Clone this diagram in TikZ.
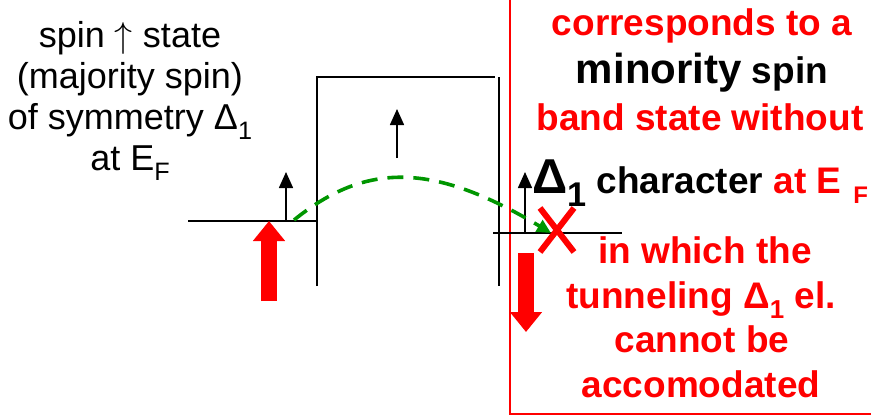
\RequirePackage{fix-cm}
\documentclass[tikz,border=0pt]{standalone}
\usepackage{fontspec}
\setmainfont{Liberation Sans}
\usepackage{tikz}
\usetikzlibrary{arrows.meta}
\definecolor{alertred}{RGB}{255,0,0}
\definecolor{pathgreen}{RGB}{0,150,0}
\newcommand{\idx}[1]{\raisebox{-0.28em}{\scalebox{0.7}{#1}}}
\newcommand{\lowidx}[1]{\raisebox{-10pt}{\fontsize{24}{24}\selectfont #1}}
\tikzset{
  base/.style={inner sep=0pt, align=center, anchor=base},
  plain/.style={base, font=\fontsize{36}{41}\selectfont},
  note/.style={base, font=\bfseries\fontsize{37}{45}\selectfont, text=alertred},
  level/.style={line width=1.6pt, draw=black},
  spinarr/.style={-{Triangle[length=16pt,width=14pt]}, line width=1.6pt, draw=black},
  bigspin/.style={-{Triangle[length=20pt,width=31pt]}, line width=16pt, draw=alertred},
  tunnel/.style={-{Triangle[length=14pt,width=13pt]}, line width=3.6pt, draw=pathgreen, dash pattern=on 16pt off 10pt},
  cross/.style={line width=6pt, draw=alertred},
  frame/.style={draw=alertred, line width=1.5pt},
}

\begin{document}
\begin{tikzpicture}[x=1pt,y=-1pt]
  \useasboundingbox (0,0) rectangle (871,416);
  % frame of the remark
  \draw[frame] (510,-10) -- (510,414) -- (890,414);
  % electrodes and barrier
  \coordinate (left0) at (188,221);
  \coordinate (left1) at (317,221);
  \coordinate (right0) at (493,233);
  \coordinate (right1) at (622,233);
  \draw[level] (left0) -- (left1);
  \draw[level] (317,286) -- (317,77) -- (495,77);
  \draw[level] (499,77) -- (499,286);
  \draw[level] (right0) -- (right1);
  % small spin arrows
  \coordinate (sa0) at (286,221);  \coordinate (sa1) at (286,172);
  \coordinate (sb0) at (397,158);  \coordinate (sb1) at (397,109);
  \coordinate (sc0) at (525,233);  \coordinate (sc1) at (525,172);
  \foreach \a/\b in {sa0/sa1,sb0/sb1,sc0/sc1}{\draw[spinarr] (\a) -- (\b);}
  % majority / minority spin
  \coordinate (up0) at (269,301);   \coordinate (up1) at (269,221);
  \coordinate (dn0) at (526,253);   \coordinate (dn1) at (526,332);
  \draw[bigspin] (up0) -- (up1);
  \draw[bigspin] (dn0) -- (dn1);
  % tunneling path
  \coordinate (gstart) at (294,220);
  \coordinate (miss) at (557,230);
  \draw[tunnel] (gstart) .. controls (366,162) and (433,162) .. (551,233);
  \draw[cross] ([shift={(-17,-22)}]miss) -- ([shift={(17,22)}]miss);
  \draw[cross] ([shift={(17,-22)}]miss) -- ([shift={(-17,22)}]miss);
  % left text
  \node[plain] (spinup) at (130,170) {spin $\uparrow$ state\\(majority spin)\\of symmetry Δ\idx{1}\\at E\idx{F}};
  % right text
  \node[note] (r1) at (702,35) {corresponds to a};
  \node[note,text=black] (r2) at (702,83) {{\fontsize{42}{48}\selectfont minority} spin};
  \node[note] (r3) at (700,130) {band state without};
  \node[note] (r4) at (700,193) {\textcolor{black}{{\fontsize{49}{55}\selectfont Δ\idx{1}} character} at E\hspace{12pt}\lowidx{F}};
  \node[note] (r5) at (705,263) {in which the};
  \node[note] (r6) at (701,308) {tunneling Δ\idx{1} el.};
  \node[note] (r7) at (702,352) {cannot be};
  \node[note] (r8) at (701,397) {accomodated};
\end{tikzpicture}
\end{document}
